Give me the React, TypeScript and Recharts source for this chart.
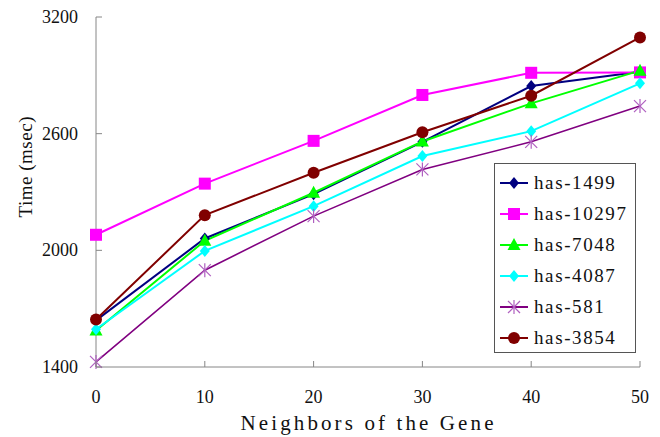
import { LineChart, Line, XAxis, YAxis, Label } from 'recharts';

const neighbors = [0, 10, 20, 30, 40, 50];
const xTicks = [0, 10, 20, 30, 40, 50];
const yTicks = [1400, 2000, 2600, 3200];

const has1499 = [1640, 2061, 2289, 2558, 2845, 2918];
const has10297 = [2080, 2343, 2563, 2799, 2913, 2915];
const has7048 = [1588, 2049, 2296, 2560, 2756, 2924];
const has4087 = [1594, 1997, 2227, 2485, 2613, 2859];
const has581 = [1426, 1898, 2176, 2416, 2558, 2742];
const has3854 = [1644, 2181, 2399, 2607, 2795, 3095];

const series = [
  { key: 'has-1499', values: has1499, color: '#000080', marker: 'diamond', markerColor: '#000080' },
  { key: 'has-10297', values: has10297, color: '#FF00FF', marker: 'square', markerColor: '#FF00FF' },
  { key: 'has-7048', values: has7048, color: '#00FF00', marker: 'triangle', markerColor: '#00FF00' },
  { key: 'has-4087', values: has4087, color: '#00FFFF', marker: 'diamond', markerColor: '#00FFFF' },
  { key: 'has-581', values: has581, color: '#800080', marker: 'star', markerColor: '#B060C0' },
  { key: 'has-3854', values: has3854, color: '#800000', marker: 'circle', markerColor: '#800000' },
];

const chartData = neighbors.map((n, i) => {
  const row: Record<string, number> = { n };
  series.forEach((s) => {
    row[s.key] = s.values[i];
  });
  return row;
});

const serifFont = '"Liberation Serif", "DejaVu Serif", serif';
const axisColor = '#868686';

function Marker({ type, cx, cy, color }: { type: string; cx: number; cy: number; color: string }) {
  if (cx == null || cy == null) return null;
  if (type === 'diamond') {
    return <path d={`M${cx},${cy - 6}L${cx + 5},${cy}L${cx},${cy + 6}L${cx - 5},${cy}Z`} fill={color} />;
  }
  if (type === 'square') {
    return <rect x={cx - 6} y={cy - 6} width={12} height={12} fill={color} />;
  }
  if (type === 'triangle') {
    return <path d={`M${cx},${cy - 7}L${cx + 6.5},${cy + 5}L${cx - 6.5},${cy + 5}Z`} fill={color} />;
  }
  if (type === 'star') {
    return (
      <g stroke={color} strokeWidth={1.2}>
        <line x1={cx - 6} y1={cy - 6} x2={cx + 6} y2={cy + 6} />
        <line x1={cx - 6} y1={cy + 6} x2={cx + 6} y2={cy - 6} />
        <line x1={cx} y1={cy - 7} x2={cx} y2={cy + 7} />
      </g>
    );
  }
  return <circle cx={cx} cy={cy} r={6} fill={color} />;
}

function XTick(props: any) {
  const { x, y, payload } = props;
  return (
    <g>
      <line x1={x} y1={y} x2={x} y2={y - 6} stroke={axisColor} />
      <text x={x} y={y + 36} textAnchor="middle" fontFamily={serifFont} fontSize={18} fill="#111">
        {payload.value}
      </text>
    </g>
  );
}

function YTick(props: any) {
  const { x, y, payload } = props;
  return (
    <g>
      <line x1={x} y1={y} x2={x + 6} y2={y} stroke={axisColor} />
      <text x={x - 18} y={y + 6} textAnchor="end" fontFamily={serifFont} fontSize={18} fill="#111">
        {payload.value}
      </text>
    </g>
  );
}

// legend drawn as an overlay so it doesn't shrink the plot area
function LegendBox() {
  return (
    <div
      style={{
        position: 'absolute',
        left: 494,
        top: 163,
        width: 142,
        height: 190,
        border: '1px solid #555',
        background: '#fff',
        boxSizing: 'border-box',
        paddingTop: 3,
      }}
    >
      {series.map((s) => (
        <div key={s.key} style={{ display: 'flex', alignItems: 'center', height: 31 }}>
          <svg width={39} height={20} style={{ flex: 'none' }}>
            <line x1={5} y1={10} x2={33} y2={10} stroke={s.color} strokeWidth={2} />
            <Marker type={s.marker} cx={19} cy={10} color={s.markerColor} />
          </svg>
          <span style={{ fontFamily: serifFont, fontSize: 19, letterSpacing: 1.6, color: '#111', lineHeight: '20px' }}>
            {s.key}
          </span>
        </div>
      ))}
    </div>
  );
}

export default function App() {
  return (
    <div style={{ position: 'absolute', left: 0, top: 0, width: 660, height: 437, background: '#fff' }}>
      <LineChart width={660} height={437} data={chartData} margin={{ top: 17, right: 20, bottom: 0, left: 0 }}>
        <XAxis
          dataKey="n"
          type="number"
          domain={[0, 50]}
          ticks={xTicks}
          stroke={axisColor}
          tickLine={false}
          tickSize={0}
          tickMargin={0}
          tick={<XTick />}
          height={70}
        >
          <Label
            content={(p: any) => {
              const vb = p.viewBox;
              return (
                <text
                  x={vb.x + vb.width / 2 - 1}
                  y={vb.y + 63}
                  textAnchor="middle"
                  fontFamily={serifFont}
                  fontSize={21}
                  textLength={253}
                  lengthAdjust="spacing"
                  fill="#111"
                >
                  Neighbors of the Gene
                </text>
              );
            }}
          />
        </XAxis>
        <YAxis
          type="number"
          domain={[1400, 3200]}
          ticks={yTicks}
          stroke={axisColor}
          tickLine={false}
          tickSize={0}
          tickMargin={0}
          tick={<YTick />}
          width={96}
        >
          <Label
            content={(p: any) => {
              const vb = p.viewBox;
              const cx = vb.x + 32;
              const cy = vb.y + 150;
              return (
                <text
                  x={cx}
                  y={cy}
                  transform={`rotate(-90 ${cx} ${cy})`}
                  textAnchor="middle"
                  fontFamily={serifFont}
                  fontSize={19}
                  textLength={101}
                  lengthAdjust="spacing"
                  fill="#111"
                >
                  Time (msec)
                </text>
              );
            }}
          />
        </YAxis>
        {series.map((s) => (
          <Line
            key={s.key}
            type="linear"
            dataKey={s.key}
            stroke={s.color}
            strokeWidth={s.marker === 'star' ? 1.6 : 2}
            dot={(p: any) => <Marker key={`${s.key}-${p.index}`} type={s.marker} cx={p.cx} cy={p.cy} color={s.markerColor} />}
            activeDot={false}
            isAnimationActive={false}
          />
        ))}
      </LineChart>
      <LegendBox />
    </div>
  );
}
